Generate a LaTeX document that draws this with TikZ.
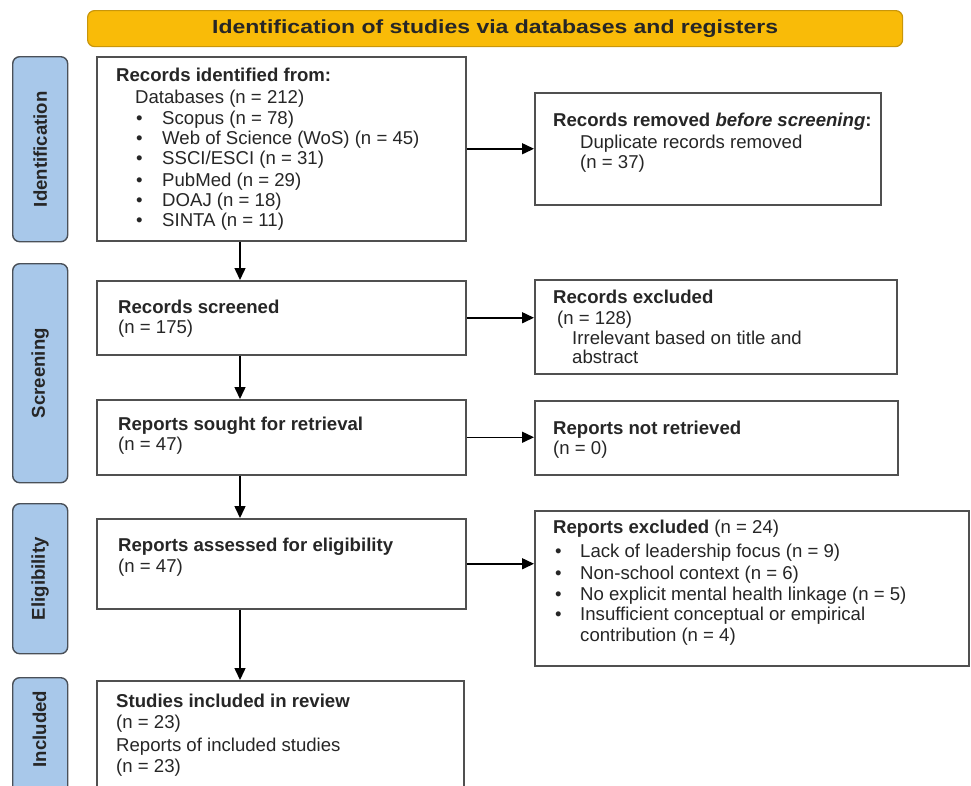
\documentclass[tikz,border=0pt]{standalone}
\usepackage{fontspec}
\usepackage{graphicx}
\setmainfont{Liberation Sans}
\usetikzlibrary{arrows.meta}
\definecolor{hdr}{HTML}{F9BB08}
\definecolor{hdrline}{HTML}{C9960A}
\definecolor{side}{HTML}{A8C8EA}
\definecolor{sideline}{HTML}{4A5058}
\definecolor{boxline}{HTML}{505050}
\definecolor{ink}{HTML}{262626}
\begin{document}
\begin{tikzpicture}[x=1pt,y=-1pt,
  every node/.style={font=\fontsize{18.6}{20.5}\selectfont, text=ink},
  box/.style={draw=boxline, line width=1.5pt, fill=white, anchor=north west, inner sep=0pt},
  sidebox/.style={draw=sideline, line width=1.4pt, fill=side, rounded corners=7pt, anchor=north west, inner sep=0pt},
  txt/.style={anchor=west, inner sep=0pt, text height=13pt, text depth=0pt},
  sidetxt/.style={rotate=90, inner sep=0pt, font=\fontsize{18.6}{20.5}\selectfont\bfseries},
  arr/.style={draw=black, line width=1.5pt, -{Triangle[length=12pt,width=11pt]}}]
\clip (0,0) rectangle (971,785);
\useasboundingbox (0,0) rectangle (971,785);

% header
\node[draw=hdrline, line width=1.2pt, fill=hdr, rounded corners=7pt, anchor=north west, inner sep=0pt,
      minimum width=815pt, minimum height=36pt] (hdr) at (87,10) {};
\node[inner sep=0pt, text=black!85, font=\fontsize{19}{22}\selectfont\bfseries] (hdrt) at (hdr.center)
  {\scalebox{1.21}[1]{Identification of studies via databases and registers}};

% side labels
\node[sidebox, minimum width=55pt, minimum height=185pt] (s1) at (12,56) {};
\node[sidebox, minimum width=55pt, minimum height=219pt] (s2) at (12,263) {};
\node[sidebox, minimum width=55pt, minimum height=150pt] (s3) at (12,503) {};
\node[sidebox, minimum width=55pt, minimum height=150pt] (s4) at (12,677) {};
\node[sidetxt] (s1t) at (s1.center) {Identification};
\node[sidetxt] (s2t) at (s2.center) {Screening};
\node[sidetxt] (s3t) at (s3.center) {Eligibility};
\node[sidetxt] (s4t) at (39.5,729) {Included};

% left boxes
\node[box, minimum width=369pt, minimum height=184pt] (b1) at (96,56) {};
\node[box, minimum width=369pt, minimum height=74pt] (b2) at (96,280) {};
\node[box, minimum width=369pt, minimum height=75pt] (b3) at (96,399) {};
\node[box, minimum width=369pt, minimum height=90pt] (b4) at (96,518) {};
\node[box, minimum width=367pt, minimum height=130pt] (b5) at (96,680) {};

% right boxes
\node[box, minimum width=346pt, minimum height=112pt] (r1) at (534,92) {};
\node[box, minimum width=362pt, minimum height=94pt] (r2) at (534,279) {};
\node[box, minimum width=363pt, minimum height=74pt] (r3) at (534,400) {};
\node[box, minimum width=434pt, minimum height=155pt] (r4) at (534,510) {};

% box 1 text
\node[txt] (b1a) at (116,75) {\bfseries Records identified from:};
\node[txt] (b1b) at (135,97) {Databases (n = 212)};
\node[txt] (b1c1) at (136,118) {•};
\node[txt] (b1c) at (162,118) {Scopus (n = 78)};
\node[txt] (b1d1) at (136,138) {•};
\node[txt] (b1d) at (162,138) {Web of Science (WoS) (n = 45)};
\node[txt] (b1e1) at (136,158) {•};
\node[txt] (b1e) at (162,158) {SSCI/ESCI (n = 31)};
\node[txt] (b1f1) at (136,180) {•};
\node[txt] (b1f) at (162,180) {PubMed (n = 29)};
\node[txt] (b1g1) at (136,200) {•};
\node[txt] (b1g) at (162,200) {DOAJ (n = 18)};
\node[txt] (b1h1) at (136,220) {•};
\node[txt] (b1h) at (162,220) {SINTA (n = 11)};

% r1 text
\node[txt] (r1a) at (553,120) {\bfseries Records removed \textit{before screening}:};
\node[txt] (r1b) at (580,142) {Duplicate records removed};
\node[txt] (r1c) at (580,162) {(n = 37)};

% b2 text
\node[txt] (b2a) at (118,307) {\bfseries Records screened};
\node[txt] (b2b) at (118,327) {(n = 175)};

% r2 text
\node[txt] (r2a) at (553,297) {\bfseries Records excluded};
\node[txt] (r2b) at (557,318) {(n = 128)};
\node[txt] (r2c) at (572,338) {Irrelevant based on title and};
\node[txt] (r2d) at (572,357) {abstract};

% b3 text
\node[txt] (b3a) at (118,424) {\bfseries Reports sought for retrieval};
\node[txt] (b3b) at (118,444) {(n = 47)};

% r3 text
\node[txt] (r3a) at (553,428) {\bfseries Reports not retrieved};
\node[txt] (r3b) at (553,448) {(n = 0)};

% b4 text
\node[txt] (b4a) at (118,545) {\bfseries Reports assessed for eligibility};
\node[txt] (b4b) at (118,566) {(n = 47)};

% r4 text
\node[txt] (r4a) at (553,527) {\textbf{Reports excluded} (n = 24)};
\node[txt] (r4b1) at (555,551) {•};
\node[txt] (r4b) at (580,551) {Lack of leadership focus (n = 9)};
\node[txt] (r4c1) at (555,573) {•};
\node[txt] (r4c) at (580,573) {Non-school context (n = 6)};
\node[txt] (r4d1) at (555,594) {•};
\node[txt] (r4d) at (580,594) {No explicit mental health linkage (n = 5)};
\node[txt] (r4e1) at (555,614) {•};
\node[txt] (r4e) at (580,614) {Insufficient conceptual or empirical};
\node[txt] (r4f) at (580,635) {contribution (n = 4)};

% b5 text
\node[txt] (b5a) at (116,701) {\bfseries Studies included in review};
\node[txt] (b5b) at (116,722) {(n = 23)};
\node[txt] (b5c) at (116,745) {Reports of included studies};
\node[txt] (b5d) at (116,766) {(n = 23)};

% connectors
\coordinate (ax) at (240,0);
\draw[arr] (ax |- b1.south) -- (ax |- b2.north);
\draw[arr] (ax |- b2.south) -- (ax |- b3.north);
\draw[arr] (ax |- b3.south) -- (ax |- b4.north);
\draw[arr] (ax |- b4.south) -- (ax |- b5.north);
\draw[arr] (b1.east) -- (b1.east -| r1.west);
\draw[arr] (b2.east) -- (b2.east -| r2.west);
\draw[arr] (b3.east) -- (b3.east -| r3.west);
\draw[arr] (b4.east) -- (b4.east -| r4.west);
\end{tikzpicture}
\end{document}
